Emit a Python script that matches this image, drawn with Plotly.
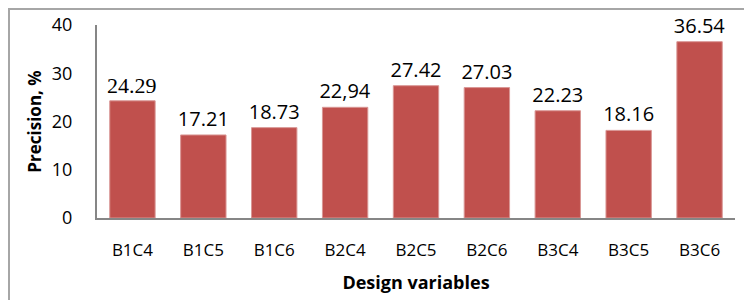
import plotly.graph_objects as go

categories = ["B1C4", "B1C5", "B1C6", "B2C4", "B2C5", "B2C6", "B3C4", "B3C5", "B3C6"]
values = [24.29, 17.21, 18.73, 22.94, 27.42, 27.03, 22.23, 18.16, 36.54]
value_labels = ["24.29", "17.21", "18.73", "22,94", "27.42", "27.03", "22.23", "18.16", "36.54"]
y_ticks = [0, 10, 20, 30, 40]

# the first label is typeset in a serif face in the reference -> drawn as an annotation
bar_texts = [""] + value_labels[1:]

fig = go.Figure(go.Bar(
    x=categories,
    y=values,
    text=bar_texts,
    textposition="outside",
    constraintext="none",
    cliponaxis=False,
    textfont=dict(family="Open Sans", size=20, color="#000000"),
    marker=dict(color="#C0504D", line=dict(color="#D99694", width=1)),
))

fig.add_annotation(
    x=categories[0], y=values[0], text=value_labels[0],
    showarrow=False, yanchor="bottom", yshift=1,
    font=dict(family="Liberation Serif", size=22, color="#000000"),
)

# page body has an 8px margin, so the figure is sized/positioned to compensate
W, H = 744, 292
l, r, t, b = 89, 17, 17, 82
pw, ph = W - l - r, H - t - b

def px(x):
    return (x - l) / pw

def py(y):
    return (H - b - y) / ph

fig.update_layout(
    width=W, height=H,
    margin=dict(l=l, r=r, t=t, b=b, autoexpand=False),
    paper_bgcolor="white", plot_bgcolor="white",
    bargap=0.36,
    showlegend=False,
    font=dict(family="Open Sans", color="#000000"),
    xaxis=dict(
        automargin=False,
        showline=True, linecolor="#868686", linewidth=2,
        ticks="", tickfont=dict(size=17, family="Open Sans"),
        ticklabelstandoff=16,
        title=dict(text="<b>Design variables</b>", font=dict(size=18, family="Open Sans"), standoff=16),
    ),
    yaxis=dict(
        automargin=False,
        range=[0, 40], tickvals=y_ticks,
        showline=True, linecolor="#868686", linewidth=2,
        showgrid=False, zeroline=False,
        ticks="", tickfont=dict(size=18, family="Open Sans"),
        ticklabelstandoff=19,
        title=dict(text="<b>Precision, %</b>", font=dict(size=17, family="Open Sans"), standoff=6),
    ),
    shapes=[dict(
        type="rect", xref="paper", yref="paper",
        x0=px(1), x1=px(770), y0=py(320), y1=py(1),
        line=dict(color="#A6A6A6", width=2), fillcolor="rgba(0,0,0,0)", layer="below",
    )],
)

fig.write_html("out.html")
